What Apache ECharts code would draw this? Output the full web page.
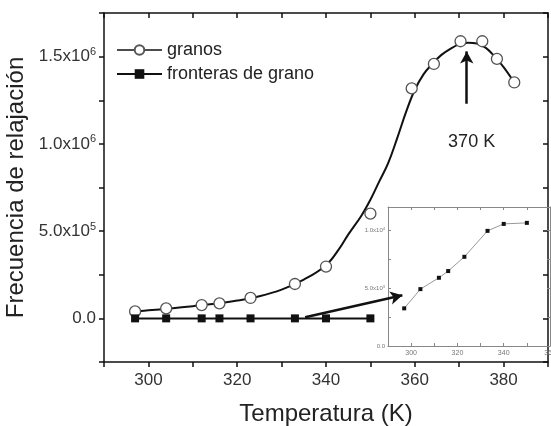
<!DOCTYPE html>
<html>
<head>
<meta charset="utf-8">
<script src="https://cdn.jsdelivr.net/npm/echarts@6/dist/echarts.min.js"></script>
<style>
  html, body { margin: 0; padding: 0; background: #fff; }
  #chart { width: 551px; height: 426px; }
</style>
</head>
<body>
<div id="chart"></div>
<script>
// granos (circulos)
const granosT = [297, 304, 312, 316, 323, 333, 340, 350, 359.3, 364.3, 370.3, 375.2, 378.5, 382.4]
const granosF = [40000, 57000, 76000, 86000, 117000, 197000, 297000, 600000, 1318000, 1458000, 1588000, 1588000, 1487000, 1352000]

// curva de ajuste
const ajusteT = [297, 300, 305, 310, 315, 320, 325, 330, 335, 340, 343, 345, 348, 350, 352, 354, 356, 358, 360, 362, 364, 366, 368, 370, 372, 374, 376, 378, 380, 382.4]
const ajusteF = [40000, 46000, 57000, 70000, 84000, 102000, 127000, 165000, 222000, 305000, 400000, 480000, 590000, 680000, 785000, 890000, 1030000, 1180000, 1310000, 1400000, 1460000, 1510000, 1545000, 1570000, 1580000, 1575000, 1550000, 1500000, 1440000, 1352000]

// fronteras de grano
const fronterasT = [297, 304, 312, 316, 323, 333, 340, 350]
const fronterasF = [3250, 4910, 5890, 6470, 7700, 9940, 10540, 10630]

const xTicks = [300, 320, 340, 360, 380]
const yTicks = [0, 500000, 1000000, 1500000]
const insetXTicks = [300, 320, 340, 360]
const insetYTicks = [0, 5000, 10000]

const FONT = 'Liberation Sans, Arial, sans-serif'

function sciLabel(v, ticks) {
  if (ticks.indexOf(v) < 0) return ''
  if (v === 0) return '{b|0.0}'
  const e = Math.floor(Math.log10(v))
  const m = (v / Math.pow(10, e)).toFixed(1)
  return `{b|${m}x10}{s|${e}}`
}

function pairs(xs, ys) {
  return xs.map((x, i) => [x, ys[i]])
}

const chart = echarts.init(document.getElementById('chart'), null, { renderer: 'canvas' })

const mainAxisLine = { show: true, onZero: false, lineStyle: { color: '#111', width: 1.5 } }
const insetAxisLine = { show: true, onZero: false, lineStyle: { color: '#888', width: 1 } }

const option = {
  animation: false,
  backgroundColor: '#fff',
  textStyle: { fontFamily: FONT },
  legend: {
    orient: 'vertical',
    left: 111,
    top: 36,
    itemWidth: 45,
    itemHeight: 12,
    itemGap: 6,
    textStyle: { fontSize: 18, color: '#222', fontFamily: FONT },
    data: [
      { name: 'granos', lineStyle: { opacity: 1, color: '#111', width: 1.5 } },
      { name: 'fronteras de grano' }
    ]
  },
  grid: [
    { left: 104, right: 3, top: 13, bottom: 64, outerBoundsMode: 'none' },
    { left: 388, right: 1, top: 207, bottom: 80, outerBoundsMode: 'none' }
  ],
  xAxis: [
    {
      type: 'value', gridIndex: 0, min: 290, max: 390, interval: 10,
      name: 'Temperatura (K)', nameLocation: 'middle', nameGap: 40,
      nameTextStyle: { fontSize: 24, color: '#222', fontFamily: FONT },
      axisLine: mainAxisLine,
      axisTick: { show: true, inside: false, length: 5, lineStyle: { color: '#111', width: 1.5 } },
      axisLabel: {
        fontSize: 17, color: '#333', margin: 10,
        formatter: v => (xTicks.indexOf(v) >= 0 ? String(v) : '')
      },
      splitLine: { show: false }
    },
    {
      type: 'value', gridIndex: 0, position: 'top', min: 290, max: 390, interval: 10,
      axisLine: mainAxisLine,
      axisTick: { show: true, inside: true, length: 5, lineStyle: { color: '#111', width: 1.5 } },
      axisLabel: { show: false },
      splitLine: { show: false }
    },
    {
      type: 'value', gridIndex: 1, min: 290, max: 360, interval: 10,
      axisLine: insetAxisLine,
      axisTick: { show: true, inside: true, length: 3, lineStyle: { color: '#888' } },
      axisLabel: {
        fontSize: 7, color: '#777', margin: 4,
        formatter: v => (insetXTicks.indexOf(v) >= 0 ? String(v) : '')
      },
      splitLine: { show: false }
    },
    {
      type: 'value', gridIndex: 1, position: 'top', min: 290, max: 360, interval: 10,
      axisLine: insetAxisLine,
      axisTick: { show: true, inside: true, length: 3, lineStyle: { color: '#888' } },
      axisLabel: { show: false },
      splitLine: { show: false }
    }
  ],
  yAxis: [
    {
      type: 'value', gridIndex: 0, min: -250000, max: 1750000, interval: 250000,
      name: 'Frecuencia de relajación', nameLocation: 'middle', nameGap: 62,
      nameTextStyle: { fontSize: 24, color: '#222', fontFamily: FONT },
      axisLine: mainAxisLine,
      axisTick: { show: true, inside: false, length: 5, lineStyle: { color: '#111', width: 1.5 } },
      axisLabel: {
        margin: 8,
        formatter: v => sciLabel(v, yTicks),
        rich: {
          b: { fontSize: 17, color: '#333', fontFamily: FONT },
          s: { fontSize: 11, color: '#333', fontFamily: FONT, verticalAlign: 'bottom', padding: [0, 0, 9, 0] }
        }
      },
      splitLine: { show: false }
    },
    {
      type: 'value', gridIndex: 0, position: 'right', min: -250000, max: 1750000, interval: 250000,
      axisLine: mainAxisLine,
      axisTick: { show: true, inside: true, length: 5, lineStyle: { color: '#111', width: 1.5 } },
      axisLabel: { show: false },
      splitLine: { show: false }
    },
    {
      type: 'value', gridIndex: 1, min: 0, max: 12000, interval: 2500,
      axisLine: insetAxisLine,
      axisTick: { show: true, inside: true, length: 3, lineStyle: { color: '#888' } },
      axisLabel: {
        margin: 3,
        formatter: v => sciLabel(v, insetYTicks),
        rich: {
          b: { fontSize: 6, color: '#777', fontFamily: FONT },
          s: { fontSize: 4, color: '#777', fontFamily: FONT, verticalAlign: 'bottom', padding: [0, 0, 3, 0] }
        }
      },
      splitLine: { show: false }
    },
    {
      type: 'value', gridIndex: 1, position: 'right', min: 0, max: 12000, interval: 2500,
      axisLine: insetAxisLine,
      axisTick: { show: true, inside: true, length: 3, lineStyle: { color: '#888' } },
      axisLabel: { show: false },
      splitLine: { show: false }
    }
  ],
  series: [
    {
      name: 'ajuste',
      type: 'line',
      xAxisIndex: 0, yAxisIndex: 0,
      data: pairs(ajusteT, ajusteF),
      smooth: 0.4,
      showSymbol: false,
      symbol: 'none',
      lineStyle: { color: '#111', width: 2 },
      z: 2,
      markLine: {
        silent: true,
        symbol: ['none', 'arrow'],
        symbolSize: [10, 12],
        lineStyle: { color: '#111', width: 2.5, type: 'solid' },
        label: { show: false },
        data: [
          [{ coord: [371.7, 1230000] }, { coord: [371.7, 1530000] }],
          [{ coord: [335.3, 6000] }, { coord: [357.2, 132000] }]
        ]
      },
      markPoint: {
        silent: true,
        symbol: 'circle',
        symbolSize: 1,
        itemStyle: { color: 'rgba(0,0,0,0)' },
        label: { show: true, position: 'inside', formatter: '370 K', fontSize: 18, color: '#222', fontFamily: FONT },
        data: [{ coord: [372.8, 1010000] }]
      }
    },
    {
      name: 'granos',
      type: 'line',
      xAxisIndex: 0, yAxisIndex: 0,
      data: pairs(granosT, granosF),
      symbol: 'circle',
      symbolSize: 11,
      itemStyle: { color: '#fff', borderColor: '#555', borderWidth: 1.3 },
      lineStyle: { opacity: 0, width: 0 },
      z: 3
    },
    {
      name: 'fronteras de grano',
      type: 'line',
      xAxisIndex: 0, yAxisIndex: 0,
      data: pairs(fronterasT, fronterasF.map(() => 0)),
      symbol: 'rect',
      symbolSize: 8,
      itemStyle: { color: '#111' },
      lineStyle: { color: '#111', width: 2 },
      z: 3
    },
    {
      name: 'inset',
      type: 'line',
      xAxisIndex: 2, yAxisIndex: 2,
      data: pairs(fronterasT, fronterasF),
      symbol: 'rect',
      symbolSize: 4,
      itemStyle: { color: '#111' },
      lineStyle: { color: '#999', width: 1 },
      z: 4
    }
  ]
}

chart.setOption(option)
</script>
</body>
</html>
